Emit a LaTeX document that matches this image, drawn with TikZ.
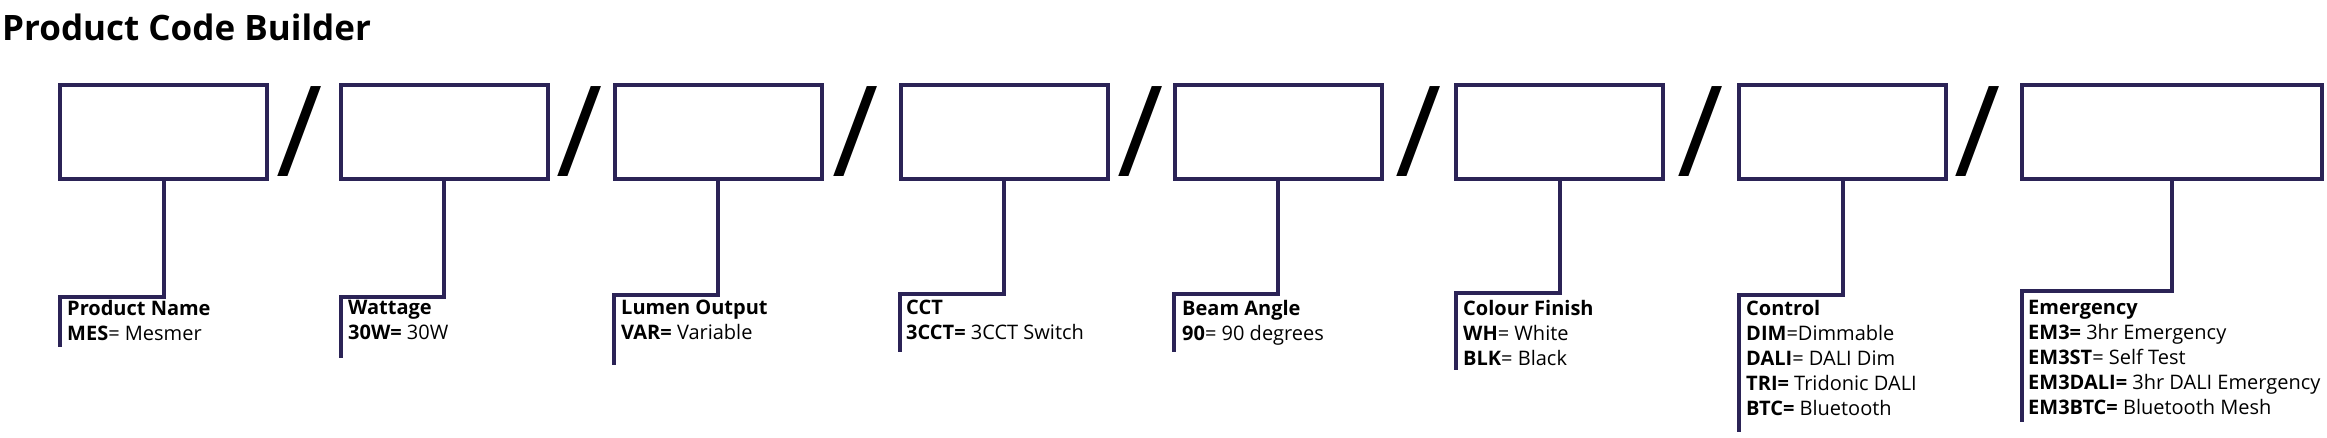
\documentclass[tikz,border=0pt]{standalone}
\usepackage{fontspec}
\setmainfont{Open Sans}
\definecolor{codeline}{RGB}{43,35,86}

\begin{document}
\begin{tikzpicture}[x=1pt,y=-1pt,
	field/.style={draw=codeline,line width=4pt,minimum width=207pt,minimum height=94pt,inner sep=0pt},
	sep/.style={anchor=base,inner sep=0pt,font=\fontsize{126}{126}\selectfont},
	leader/.style={draw=codeline,line width=4pt},
	key/.style={anchor=north west,inner sep=0pt,align=left,font=\fontsize{20}{25}\selectfont,execute at begin node=\rule{0pt}{15pt}}]
	\useasboundingbox (0,0) rectangle (2327,438);
	\node (title) at (2,41) [anchor=base west,inner sep=0pt,font=\fontsize{35}{35}\selectfont\bfseries] {Product Code Builder};

	\node (name) at (163.5,132) [field] {};
	\node (watt) at (444,132) [field] {};
	\node (lumen) at (718,132) [field] {};
	\node (cct) at (1004,132) [field] {};
	\node (beam) at (1278,132) [field] {};
	\node (colour) at (1559.5,132) [field] {};
	\node (control) at (1842.5,132) [field] {};
	\node (emerg) at (2172,132) [field,minimum width=300pt] {};

	%slashes
	\node (sep1) at (300,177) [sep] {/};
	\node (sep2) at (580,177) [sep] {/};
	\node (sep3) at (856,177) [sep] {/};
	\node (sep4) at (1141,177) [sep] {/};
	\node (sep5) at (1419,177) [sep] {/};
	\node (sep6) at (1701,177) [sep] {/};
	\node (sep7) at (1978,177) [sep] {/};

	%leaders
	\coordinate (namebend) at (60,297);
	\coordinate (nameend) at (60,347);
	\draw[leader] (name.south) |- (namebend) -- (nameend);
	\coordinate (wattbend) at (341,297);
	\coordinate (wattend) at (341,358);
	\draw[leader] (watt.south) |- (wattbend) -- (wattend);
	\coordinate (lumenbend) at (614,295);
	\coordinate (lumenend) at (614,365);
	\draw[leader] (lumen.south) |- (lumenbend) -- (lumenend);
	\coordinate (cctbend) at (900,294);
	\coordinate (cctend) at (900,352);
	\draw[leader] (cct.south) |- (cctbend) -- (cctend);
	\coordinate (beambend) at (1174,294);
	\coordinate (beamend) at (1174,352);
	\draw[leader] (beam.south) |- (beambend) -- (beamend);
	\coordinate (colourbend) at (1456,293);
	\coordinate (colourend) at (1456,370);
	\draw[leader] (colour.south) |- (colourbend) -- (colourend);
	\coordinate (controlbend) at (1739,295);
	\coordinate (controlend) at (1739,432);
	\draw[leader] (control.south) |- (controlbend) -- (controlend);
	\coordinate (emergbend) at (2022,291);
	\coordinate (emergend) at (2022,422);
	\draw[leader] (emerg.south) |- (emergbend) -- (emergend);

	%keys
	\node (namekey) at (67,300) [key] {\textbf{Product Name}\\\textbf{MES}= Mesmer};
	\node (wattkey) at (348,300) [key] {\textbf{Wattage}\\\textbf{30W=} 30W};
	\node (lumenkey) at (621,300) [key] {\textbf{Lumen Output}\\\textbf{VAR=} Variable};
	\node (cctkey) at (906,300) [key] {\textbf{CCT}\\\textbf{3CCT=} 3CCT Switch};
	\node (beamkey) at (1182,300) [key] {\textbf{Beam Angle}\\\textbf{90}= 90 degrees};
	\node (colourkey) at (1463,300) [key] {\textbf{Colour Finish}\\\textbf{WH}= White\\\textbf{BLK}= Black};
	\node (controlkey) at (1746,300) [key] {\textbf{Control}\\\textbf{DIM}=Dimmable\\\textbf{DALI}= DALI Dim\\\textbf{TRI=} Tridonic DALI\\\textbf{BTC=} Bluetooth};
	\node (emergkey) at (2028,300) [key] {\textbf{Emergency}\\\textbf{EM3=} 3hr Emergency\\\textbf{EM3ST}= Self Test\\\textbf{EM3DALI=} 3hr DALI Emergency\\\textbf{EM3BTC=} Bluetooth Mesh};
\end{tikzpicture}
\end{document}
